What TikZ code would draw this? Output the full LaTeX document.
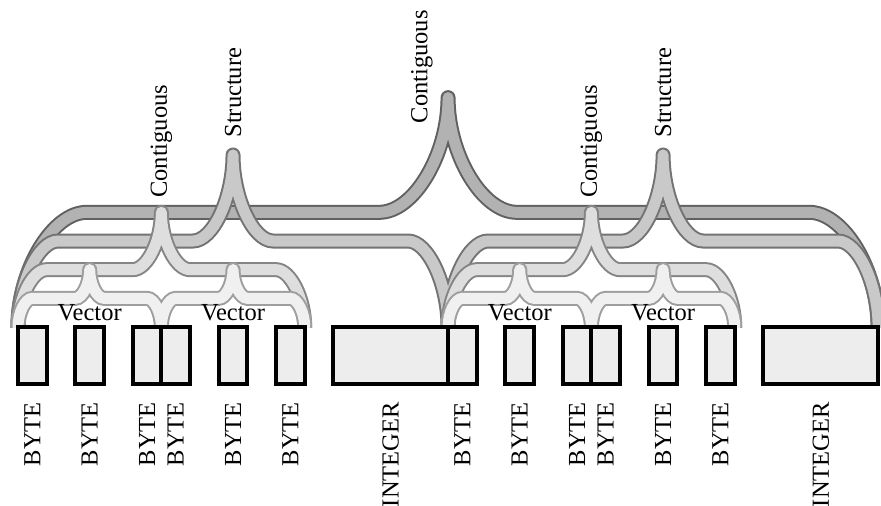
\documentclass[tikz,border=0pt]{standalone}
\usepackage{fontspec}
\setmainfont{Liberation Serif}

% a brace from #1 to #2 at level #3, bends #4 wide
\newcommand{\brc}[4]{%
  (#1,0) .. controls (#1,#3/2) and ({#1+#4/2},#3) .. ({#1+#4},#3)
  -- ({(#1+#2)/2-#4},#3) .. controls ({(#1+#2)/2-#4/2},#3) and ({(#1+#2)/2},{1.5*#3}) .. ({(#1+#2)/2},{2*#3})
  (#2,0) .. controls (#2,#3/2) and ({#2-#4/2},#3) .. ({#2-#4},#3)
  -- ({(#1+#2)/2+#4},#3) .. controls ({(#1+#2)/2+#4/2},#3) and ({(#1+#2)/2},{1.5*#3}) .. ({(#1+#2)/2},{2*#3})}

\begin{document}
\begin{tikzpicture}[x=28.67bp, y=28.67bp,
	pipe/.style={line width=2bp, double distance=11bp, line cap=round},
	toppipe/.style={pipe, draw=black!62, double=black!30},
	strpipe/.style={pipe, draw=black!55, double=black!21},
	conpipe/.style={pipe, draw=black!48, double=black!13},
	vecpipe/.style={pipe, draw=black!38, double=black!6},
	bytebox/.style={draw, line width=4bp, fill=black!7, inner sep=0pt, minimum width=28.67bp, minimum height=57.34bp},
	intbox/.style={bytebox, minimum width=114.68bp},
	lbl/.style={inner sep=0pt, font=\fontsize{24.5bp}{29bp}\selectfont},
	typelbl/.style={lbl, rotate=90, anchor=east},
	ctorlbl/.style={lbl, rotate=90, anchor=west}]
	
	\useasboundingbox (-0.628,-6.243) rectangle (30.101,11.406);
	
	\begin{scope}
		\clip (-1,0) rectangle (31,12);
		\draw[toppipe] \brc{0}{30}{4}{2.4};
		\draw[strpipe] \brc{0}{15}{3}{1.4} \brc{15}{30}{3}{1.4};
		\draw[conpipe] \brc{0}{10}{2}{1} \brc{15}{25}{2}{1};
		\draw[vecpipe] \brc{0}{5}{1}{0.5} \brc{5}{10}{1}{0.5} \brc{15}{20}{1}{0.5} \brc{20}{25}{1}{0.5};
	\end{scope}
	
	\node[bytebox] (b1) at (0.5,-1) {};
	\node[bytebox] (b2) at (2.5,-1) {};
	\node[bytebox] (b3) at (4.5,-1) {};
	\node[bytebox] (b4) at (5.5,-1) {};
	\node[bytebox] (b5) at (7.5,-1) {};
	\node[bytebox] (b6) at (9.5,-1) {};
	\node[intbox] (i1) at (13,-1) {};
	\node[bytebox] (b7) at (15.5,-1) {};
	\node[bytebox] (b8) at (17.5,-1) {};
	\node[bytebox] (b9) at (19.5,-1) {};
	\node[bytebox] (b10) at (20.5,-1) {};
	\node[bytebox] (b11) at (22.5,-1) {};
	\node[bytebox] (b12) at (24.5,-1) {};
	\node[intbox] (i2) at (28,-1) {};
	
	\node[typelbl] (t1) at (0.5,-2.62) {BYTE};
	\node[typelbl] (t2) at (2.5,-2.62) {BYTE};
	\node[typelbl] (t3) at (4.5,-2.62) {BYTE};
	\node[typelbl] (t4) at (5.5,-2.62) {BYTE};
	\node[typelbl] (t5) at (7.5,-2.62) {BYTE};
	\node[typelbl] (t6) at (9.5,-2.62) {BYTE};
	\node[typelbl] (t7) at (13,-2.62) {INTEGER};
	\node[typelbl] (t8) at (15.5,-2.62) {BYTE};
	\node[typelbl] (t9) at (17.5,-2.62) {BYTE};
	\node[typelbl] (t10) at (19.5,-2.62) {BYTE};
	\node[typelbl] (t11) at (20.5,-2.62) {BYTE};
	\node[typelbl] (t12) at (22.5,-2.62) {BYTE};
	\node[typelbl] (t13) at (24.5,-2.62) {BYTE};
	\node[typelbl] (t14) at (28,-2.62) {INTEGER};
	
	\node[lbl] (v1) at (2.5,0.5) {Vector};
	\node[lbl] (v2) at (7.5,0.5) {Vector};
	\node[lbl] (v3) at (17.5,0.5) {Vector};
	\node[lbl] (v4) at (22.5,0.5) {Vector};
	
	\node[ctorlbl] (c1) at (5,4.5) {Contiguous};
	\node[ctorlbl] (c2) at (20,4.5) {Contiguous};
	\node[ctorlbl] (s1) at (7.5,6.6) {Structure};
	\node[ctorlbl] (s2) at (22.5,6.6) {Structure};
	\node[ctorlbl] (c3) at (14.09,7.1) {Contiguous};
	
\end{tikzpicture}
\end{document}
